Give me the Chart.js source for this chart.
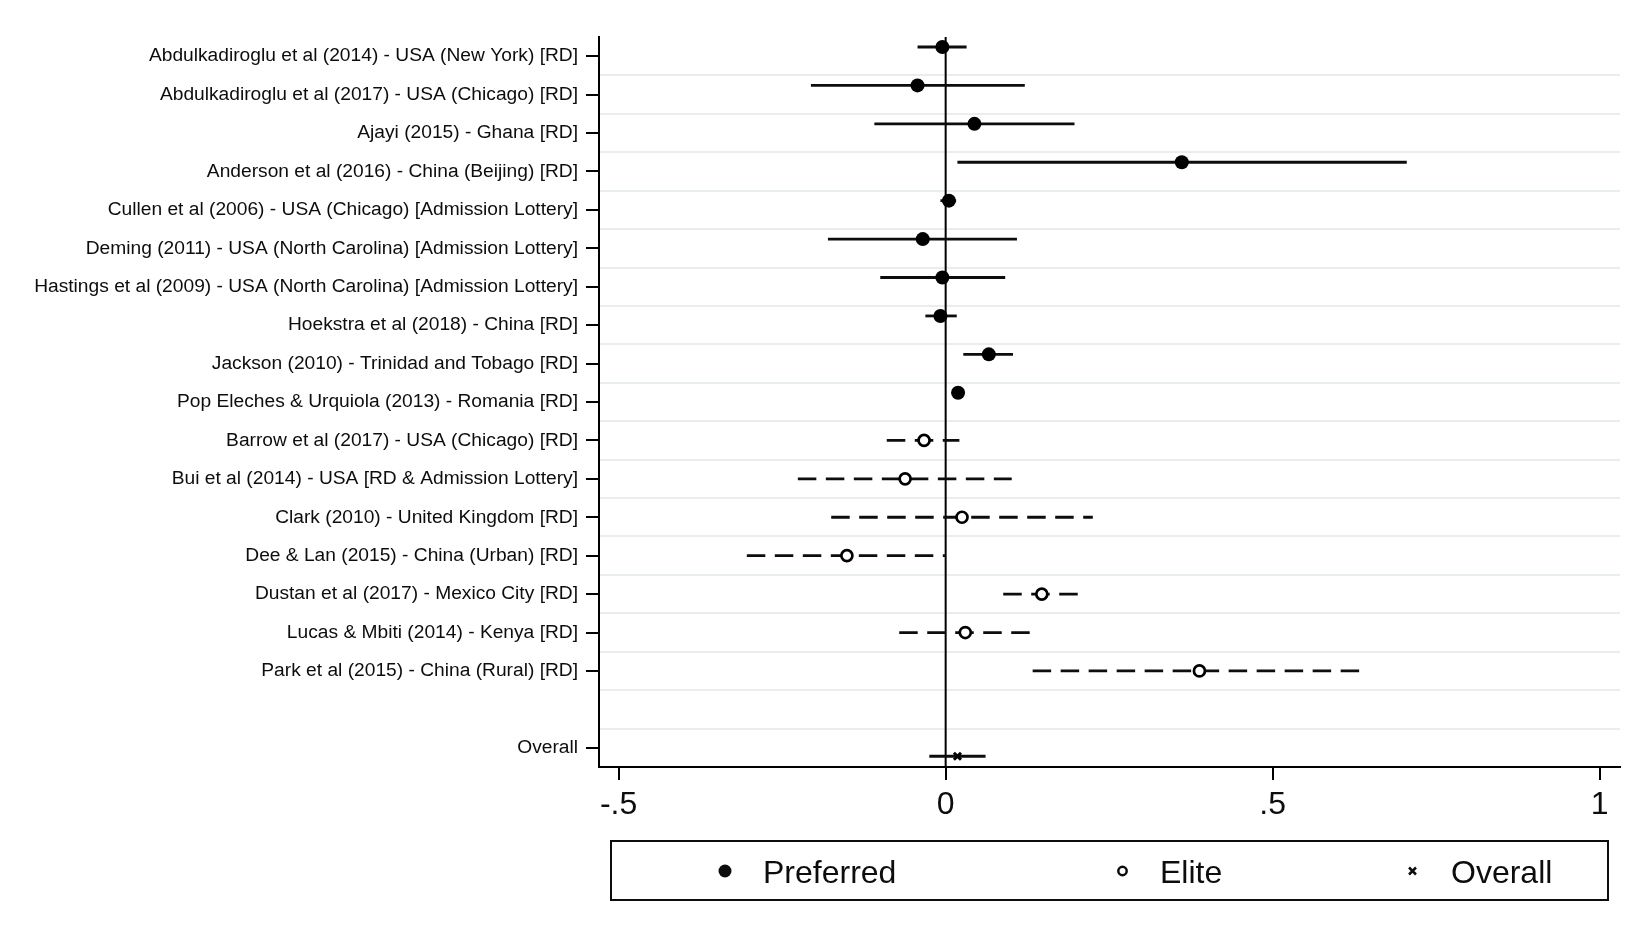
<!DOCTYPE html>
<html>
<head>
<meta charset="utf-8">
<script src="https://cdn.jsdelivr.net/npm/chart.js@4.4.1/dist/chart.umd.min.js"></script>
<style>
  html, body { margin: 0; padding: 0; background: #fff; }
  canvas { display: block; }
</style>
</head>
<body>
<canvas id="forest" width="1644" height="939"></canvas>
<script>
// --- data ---
const studyLabels = [
  'Abdulkadiroglu et al (2014) - USA (New York) [RD]',
  'Abdulkadiroglu et al (2017) - USA (Chicago) [RD]',
  'Ajayi (2015) - Ghana [RD]',
  'Anderson et al (2016) - China (Beijing) [RD]',
  'Cullen et al (2006) - USA (Chicago) [Admission Lottery]',
  'Deming (2011) - USA (North Carolina) [Admission Lottery]',
  'Hastings et al (2009) - USA (North Carolina) [Admission Lottery]',
  'Hoekstra et al (2018) - China [RD]',
  'Jackson (2010) - Trinidad and Tobago [RD]',
  'Pop Eleches & Urquiola (2013) - Romania [RD]',
  'Barrow et al (2017) - USA (Chicago) [RD]',
  'Bui et al (2014) - USA [RD & Admission Lottery]',
  'Clark (2010) - United Kingdom [RD]',
  'Dee & Lan (2015) - China (Urban) [RD]',
  'Dustan et al (2017) - Mexico City [RD]',
  'Lucas & Mbiti (2014) - Kenya [RD]',
  'Park et al (2015) - China (Rural) [RD]'
];

const prefRows = [1, 2, 3, 4, 5, 6, 7, 8, 9, 10];
const prefEst  = [-0.005, -0.043, 0.044, 0.361, 0.005, -0.035, -0.005, -0.008, 0.066, 0.019];
const prefLo   = [-0.043, -0.206, -0.109, 0.018, -0.008, -0.180, -0.100, -0.031, 0.027, 0.013];
const prefHi   = [0.032, 0.121, 0.197, 0.705, 0.016, 0.109, 0.091, 0.017, 0.103, 0.025];

const eliteRows = [11, 12, 13, 14, 15, 16, 17];
const eliteEst  = [-0.033, -0.062, 0.025, -0.151, 0.147, 0.030, 0.388];
const eliteLo   = [-0.090, -0.226, -0.175, -0.304, 0.088, -0.071, 0.133];
const eliteHi   = [0.021, 0.101, 0.225, -0.001, 0.202, 0.129, 0.636];

const overallRows = [19];
const overallEst  = [0.018];
const overallLo   = [-0.025];
const overallHi   = [0.061];

const tickRows   = [1, 2, 3, 4, 5, 6, 7, 8, 9, 10, 11, 12, 13, 14, 15, 16, 17, 19];
const tickLabels = studyLabels.concat(['Overall']);
const gridRows   = [1.5, 2.5, 3.5, 4.5, 5.5, 6.5, 7.5, 8.5, 9.5, 10.5, 11.5, 12.5, 13.5, 14.5, 15.5, 16.5, 17.5, 18.5];
const xTickValues = [-0.5, 0, 0.5, 1];
const xTickLabels = ['-.5', '0', '.5', '1'];

// --- styling ---
const FONT = "'Liberation Sans', Arial, sans-serif";
const PREF_SHIFT = -0.24;     // preferred markers sit a bit above their tick
const OVERALL_SHIFT = 0.22;   // overall marker sits a bit below its tick
const INK = '#0d0d0d';

const datasets = [];

// vertical reference line at zero
datasets.push({
  data: [{ x: 0, y: 0.5 }, { x: 0, y: 19.5 }],
  showLine: true, borderColor: '#000', borderWidth: 2,
  pointRadius: 0, order: 3
});

function addCIs(rows, lo, hi, shift, dash) {
  rows.forEach((r, i) => {
    datasets.push({
      data: [{ x: lo[i], y: r + shift }, { x: hi[i], y: r + shift }],
      showLine: true, borderColor: INK, borderWidth: 2.8,
      borderDash: dash, borderCapStyle: 'butt',
      pointRadius: 0, order: 2
    });
  });
}
addCIs(prefRows, prefLo, prefHi, PREF_SHIFT, []);
addCIs(eliteRows, eliteLo, eliteHi, 0, [18.5, 9.5]);
addCIs(overallRows, overallLo, overallHi, OVERALL_SHIFT, []);

datasets.push({
  label: 'Preferred',
  data: prefRows.map((r, i) => ({ x: prefEst[i], y: r + PREF_SHIFT })),
  pointStyle: 'circle', pointRadius: 7, pointBackgroundColor: '#000',
  pointBorderColor: '#000', pointBorderWidth: 0, order: 0
});
datasets.push({
  label: 'Elite',
  data: eliteRows.map((r, i) => ({ x: eliteEst[i], y: r })),
  pointStyle: 'circle', pointRadius: 5.5, pointBackgroundColor: '#fff',
  pointBorderColor: '#000', pointBorderWidth: 2.7, order: 0
});
datasets.push({
  label: 'Overall',
  data: overallRows.map((r, i) => ({ x: overallEst[i], y: r + OVERALL_SHIFT })),
  pointStyle: 'crossRot', pointRadius: 5, pointBorderColor: '#000',
  pointBorderWidth: 3, order: 0
});

// legend in a framed box under the axis, like the Stata original
const boxLegend = {
  id: 'boxLegend',
  afterDraw(chart) {
    const ctx = chart.ctx;
    ctx.save();
    ctx.strokeStyle = INK;
    ctx.lineWidth = 2;
    ctx.strokeRect(611, 841, 997, 59);

    const cy = 871;
    ctx.fillStyle = INK;
    ctx.strokeStyle = INK;
    // filled dot
    ctx.beginPath(); ctx.arc(725, cy, 6.5, 0, Math.PI * 2); ctx.fill();
    // hollow dot
    ctx.lineWidth = 2.5;
    ctx.beginPath(); ctx.arc(1122.5, cy, 4.2, 0, Math.PI * 2); ctx.stroke();
    // small x
    ctx.beginPath();
    ctx.moveTo(1409, cy - 3.5); ctx.lineTo(1416, cy + 3.5);
    ctx.moveTo(1416, cy - 3.5); ctx.lineTo(1409, cy + 3.5);
    ctx.stroke();

    ctx.font = '32px ' + FONT;
    ctx.textBaseline = 'alphabetic';
    ctx.textAlign = 'left';
    const names = chart.data.datasets.filter(d => d.label).map(d => d.label);
    const tx = [763, 1160, 1451];
    names.forEach((n, i) => ctx.fillText(n, tx[i], 883));
    ctx.restore();
  }
};

new Chart(document.getElementById('forest'), {
  type: 'scatter',
  data: { datasets },
  plugins: [boxLegend],
  options: {
    responsive: false,
    devicePixelRatio: 1,
    animation: false,
    layout: { padding: { top: 37, right: 24, left: 0, bottom: 0 } },
    plugins: { legend: { display: false }, tooltip: { enabled: false } },
    scales: {
      x: {
        type: 'linear', position: 'bottom', min: -0.53, max: 1.031,
        afterBuildTicks: s => { s.ticks = xTickValues.map(v => ({ value: v })); },
        afterFit: s => { s.height = 172; },
        ticks: {
          autoSkip: false, maxRotation: 0, padding: 6, color: INK,
          font: { family: FONT, size: 32 },
          callback: (v, i) => xTickLabels[i]
        },
        grid: { drawOnChartArea: false, drawTicks: true, tickLength: 13, color: '#000', lineWidth: 2 },
        border: { display: true, color: '#000', width: 2 }
      },
      y: {
        type: 'linear', position: 'left', reverse: true, min: 0.5, max: 19.5,
        weight: 1,
        afterBuildTicks: s => { s.ticks = tickRows.map(v => ({ value: v })); },
        afterFit: s => { s.width = 599; },
        ticks: {
          autoSkip: false, padding: 8, color: INK,
          font: { family: FONT, size: 19.2 },
          callback: (v, i) => tickLabels[i]
        },
        grid: { drawOnChartArea: false, drawTicks: true, tickLength: 13, color: '#000', lineWidth: 2 },
        border: { display: true, color: '#000', width: 2 }
      },
      yGrid: {
        type: 'linear', position: 'left', reverse: true, min: 0.5, max: 19.5,
        weight: 0,
        afterBuildTicks: s => { s.ticks = gridRows.map(v => ({ value: v })); },
        afterFit: s => { s.width = 0; },
        ticks: { display: false },
        grid: { color: '#e8eeee', lineWidth: 2, drawTicks: false },
        border: { display: false }
      }
    }
  }
});
</script>
</body>
</html>
